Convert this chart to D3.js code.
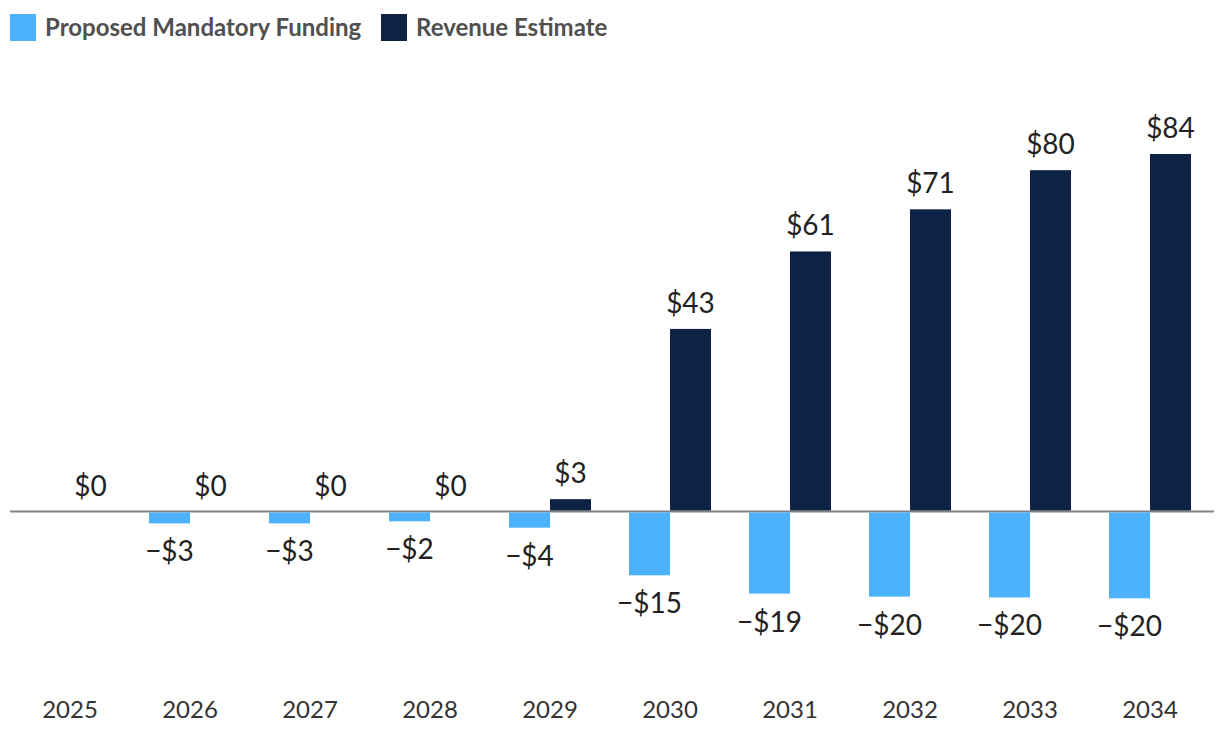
<!DOCTYPE html>
<html><head><meta charset="utf-8">
<script src="https://cdn.jsdelivr.net/npm/d3@7"></script>
<style>body{margin:0;background:#fff}svg{display:block}</style>
</head><body><svg id="c" width="1220" height="740"></svg>
<script>
const years = ["2025","2026","2027","2028","2029","2030","2031","2032","2033","2034"];
const funding = [null,-2.8,-2.8,-2.3,-3.8,-15.0,-19.3,-20.0,-20.2,-20.4];
const fundingLabels = [null,"\u2212$3","\u2212$3","\u2212$2","\u2212$4","\u2212$15","\u2212$19","\u2212$20","\u2212$20","\u2212$20"];
const revenue = [0,0,0,0,2.9,42.9,61.1,71.0,80.2,84.0];
const revenueLabels = ["$0","$0","$0","$0","$3","$43","$61","$71","$80","$84"];
const seriesNames = ["Proposed Mandatory Funding","Revenue Estimate"];
const colors = ["#4db2fe","#0e2245"];

const svg = d3.select("#c");
const x0 = d3.scaleBand().domain(years).range([10,1210]).paddingInner(0.3167).paddingOuter(0.1583);
const x1 = d3.scaleBand().domain([0,1]).range([0,x0.bandwidth()]);
const y = d3.scaleLinear().domain([0,84]).range([511.5,154]);

// zero line
svg.append("line").attr("x1",10).attr("x2",1214).attr("y1",y(0)).attr("y2",y(0))
  .attr("stroke","#808080").attr("stroke-width",2);

const g = svg.append("g");
years.forEach((yr,i)=>{
  const f = funding[i];
  if (f!==null){
    g.append("rect").attr("x",x0(yr)+x1(0)).attr("width",x1.bandwidth())
      .attr("y",y(0)+1).attr("height",y(f)-y(0)-1).attr("fill",colors[0]);
    g.append("text").attr("x",x0(yr)+x1(0)+x1.bandwidth()/2).attr("y",y(f)+38)
      .attr("text-anchor","middle").attr("font-family","Lato").attr("font-size",28)
      .attr("fill","#222").text(fundingLabels[i]);
  }
  const r = revenue[i];
  g.append("rect").attr("x",x0(yr)+x1(1)).attr("width",x1.bandwidth())
    .attr("y",y(r)).attr("height",Math.max(0,y(0)-1-y(r))).attr("fill",colors[1]);
  g.append("text").attr("x",x0(yr)+x1(1)+x1.bandwidth()/2).attr("y",y(r)-16)
    .attr("text-anchor","middle").attr("font-family","Lato").attr("font-size",28)
    .attr("fill","#222").text(revenueLabels[i]);
});

// x axis labels
const xa = svg.append("g").attr("transform","translate(0,718)")
  .call(d3.axisBottom(x0).tickSize(0).tickPadding(0));
xa.select(".domain").remove();
xa.selectAll("text").attr("font-family","Lato").attr("font-size",24).attr("fill","#333")
  .attr("dy","0");

// legend
const leg = svg.append("g");
const legX = [10,381];
seriesNames.forEach((n,i)=>{
  leg.append("rect").attr("x",legX[i]).attr("y",14).attr("width",26).attr("height",27).attr("fill",colors[i]);
  leg.append("text").attr("x",legX[i]+35).attr("y",28).attr("dy","0.35em")
    .attr("font-family","Lato").attr("font-weight","bold").attr("font-size",24)
    .attr("fill","#505050").text(n);
});
</script></body></html>
